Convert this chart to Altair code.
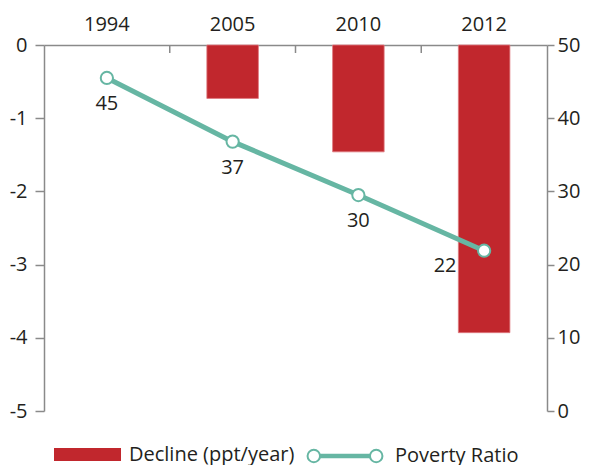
import altair as alt
import pandas as pd

years = ["1994", "2005", "2010", "2012"]
decline = [None, -0.73, -1.46, -3.93]
poverty = [45.5, 36.8, 29.5, 21.9]
poverty_labels = ["45", "37", "30", "22"]

RED = "#c1272d"
TEAL = "#66b6a3"
GRAY = "#8a8a8a"
TXT = "#231f20"
FONT = "Open Sans"
FS = 20

df = pd.DataFrame({"year": years, "decline": decline, "poverty": poverty, "label": poverty_labels})
df["bar_series"] = "Decline (ppt/year)"
df["line_series"] = "Poverty Ratio"

base = alt.Chart(df)

bars = base.transform_filter("isValid(datum.decline)").mark_bar(
    width=alt.RelativeBandSize(0.41), stroke="#e07a80", strokeWidth=0.8
).encode(
    x=alt.X("year:N", sort=years, title=None,
            scale=alt.Scale(paddingInner=0, paddingOuter=0),
            axis=alt.Axis(orient="top", ticks=False, tickSize=0, labelAngle=0,
                          labelPadding=11, domainColor=GRAY, domainWidth=1.5,
                          labelFont=FONT, labelFontSize=FS, labelColor=TXT, grid=False)),
    y=alt.Y("decline:Q", title=None,
            scale=alt.Scale(domain=[-5, 0], nice=False),
            axis=alt.Axis(orient="left", values=[0, -1, -2, -3, -4, -5], tickSize=9,
                          labelPadding=8, labelExpr="'' + datum.value",
                          domainColor=GRAY, domainWidth=1.5, tickColor=GRAY, tickWidth=1.5,
                          labelFont=FONT, labelFontSize=FS, labelColor=TXT, grid=False)),
    fill=alt.Fill("bar_series:N", title=None,
                  scale=alt.Scale(domain=["Decline (ppt/year)"], range=[RED]),
                  legend=alt.Legend(orient="none", legendX=10, legendY=376, padding=0,
                                    symbolType="M-1,-0.194L1,-0.194L1,0.194L-1,0.194Z",
                                    symbolSize=4489, symbolStrokeWidth=0, labelOffset=8,
                                    labelLimit=400,
                                    labelFont=FONT, labelFontSize=FS, labelColor=TXT)),
)

ticks = base.transform_filter("datum.year != '1994'").mark_rule(
    color=GRAY, strokeWidth=1.5
).encode(
    x=alt.X("year:N", sort=years, bandPosition=0, title=None),
    y=alt.value(0),
    y2=alt.value(8),
)

pov_scale = alt.Scale(domain=[0, 50], nice=False)
pov_axis = alt.Axis(orient="right", values=[0, 10, 20, 30, 40, 50], tickSize=7,
                    labelPadding=3, domainColor=GRAY, domainWidth=1.5,
                    tickColor=GRAY, tickWidth=1.5,
                    labelFont=FONT, labelFontSize=FS, labelColor=TXT, grid=False)
y_pov = alt.Y("poverty:Q", title=None, scale=pov_scale, axis=pov_axis)
x_pov = alt.X("year:N", sort=years, title=None)

line = base.mark_line(strokeWidth=5).encode(
    x=x_pov,
    y=y_pov,
    stroke=alt.Stroke("line_series:N", title=None,
                      scale=alt.Scale(domain=["Poverty Ratio"], range=[TEAL]),
                      legend=alt.Legend(orient="none", legendX=261, legendY=371, padding=0,
                                        symbolType=("M-0.8,0m-0.16,0a0.16,0.16 0 1,0 0.32,0a0.16,0.16 0 1,0 -0.32,0"
                                                    "M0.8,0m-0.16,0a0.16,0.16 0 1,0 0.32,0a0.16,0.16 0 1,0 -0.32,0"
                                                    "M-0.64,-0.035L0.64,-0.035M-0.64,0L0.64,0M-0.64,0.035L0.64,0.035"),
                                        symbolSize=6084, symbolStrokeWidth=2,
                                        symbolFillColor="white", labelOffset=10,
                                        labelLimit=400,
                                        labelFont=FONT, labelFontSize=FS, labelColor=TXT)),
)

points = base.mark_point(filled=True, fill="white", stroke=TEAL, strokeWidth=2, size=150, opacity=1).encode(
    x=x_pov,
    y=y_pov,
)

labels_below = base.transform_filter("datum.year != '2012'").mark_text(
    dy=26, font=FONT, fontSize=FS, color=TXT
).encode(
    x=x_pov,
    y=y_pov,
    text="label:N",
)

labels_left = base.transform_filter("datum.year == '2012'").mark_text(
    dx=-39, dy=15, font=FONT, fontSize=FS, color=TXT
).encode(
    x=x_pov,
    y=y_pov,
    text="label:N",
)

right = alt.layer(line, points, labels_below, labels_left)

chart = alt.layer(bars, ticks, right).resolve_scale(
    y="independent", fill="independent", stroke="independent"
).properties(
    width=503, height=366,
    autosize=alt.AutoSizeParams(type="none"),
    padding={"left": 36, "top": 37, "right": 34, "bottom": 60},
).configure_view(stroke=None)

chart.save("out.html", embed_options={"renderer": "svg", "actions": False})
